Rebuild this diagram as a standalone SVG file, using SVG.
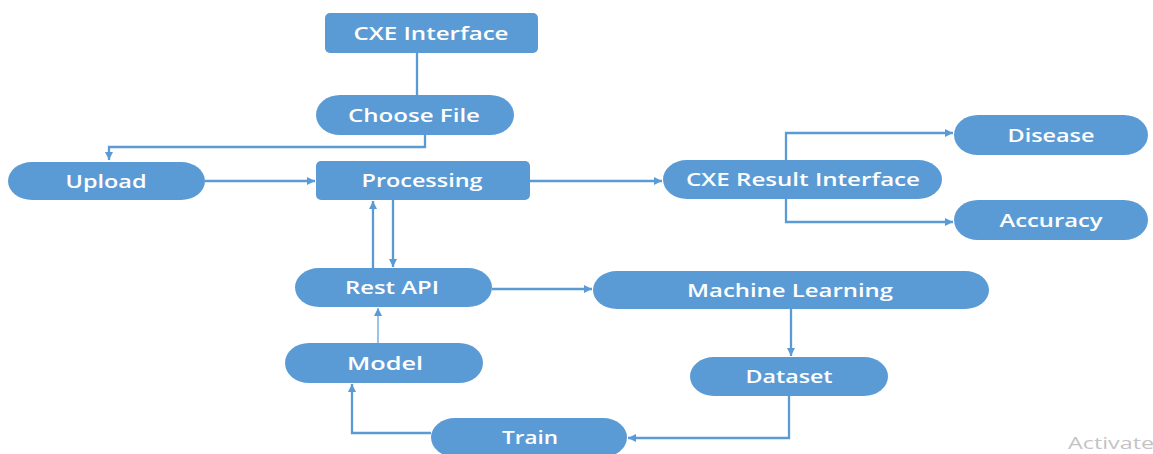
<svg xmlns="http://www.w3.org/2000/svg" width="1153" height="454" viewBox="0 0 1153 454">
<defs>
<marker id="arr" markerUnits="userSpaceOnUse" markerWidth="9" markerHeight="8" refX="8" refY="4" orient="auto">
<path d="M0,0 L8,4 L0,8 Z" fill="#5b9bd5"/>
</marker>
<style>
.box{fill:#5b9bd5;}
.lbl{font-family:"Open Sans","Noto Sans",sans-serif;font-size:18px;font-weight:600;fill:#ffffff;text-anchor:middle;}
.con{fill:none;stroke:#5b9bd5;stroke-width:2.3;}
.thin{fill:none;stroke:#5b9bd5;stroke-width:1.2;}
</style>
</defs>
<rect width="1153" height="454" fill="#ffffff"/>
<g id="connectors">
<path class="con" d="M417,53 V95"/>
<path class="con" d="M425,135 V147 H109 V160" marker-end="url(#arr)"/>
<path class="con" d="M205,181 H315" marker-end="url(#arr)"/>
<path class="con" d="M530,181 H662" marker-end="url(#arr)"/>
<path class="con" d="M786,160 V133 H953" marker-end="url(#arr)"/>
<path class="con" d="M786,199 V222 H953" marker-end="url(#arr)"/>
<path class="con" d="M373,268 V201" marker-end="url(#arr)"/>
<path class="con" d="M393,200 V267" marker-end="url(#arr)"/>
<path class="thin" d="M378,343 V308" marker-end="url(#arr)"/>
<path class="con" d="M492,289 H592" marker-end="url(#arr)"/>
<path class="con" d="M791,309 V356" marker-end="url(#arr)"/>
<path class="con" d="M789,396 V438 H628" marker-end="url(#arr)"/>
<path class="con" d="M431,433 H352 V384" marker-end="url(#arr)"/>
</g>
<g id="cxe-interface"><rect class="box" x="325" y="13" width="213" height="40" rx="5"/><text class="lbl" x="431" y="40" textLength="155" lengthAdjust="spacingAndGlyphs">CXE Interface</text></g>
<g id="choose-file"><rect class="box" x="316" y="95" width="198" height="40" rx="24" ry="20"/><text class="lbl" x="414" y="122" textLength="132" lengthAdjust="spacingAndGlyphs">Choose File</text></g>
<g id="upload"><rect class="box" x="8" y="162" width="197" height="38" rx="24" ry="19"/><text class="lbl" x="106" y="188" textLength="81" lengthAdjust="spacingAndGlyphs">Upload</text></g>
<g id="processing"><rect class="box" x="316" y="161" width="214" height="39" rx="5"/><text class="lbl" x="422" y="187" textLength="121" lengthAdjust="spacingAndGlyphs">Processing</text></g>
<g id="cxe-result"><rect class="box" x="663" y="160" width="279" height="39" rx="24" ry="19.5"/><text class="lbl" x="803" y="186" textLength="234" lengthAdjust="spacingAndGlyphs">CXE Result Interface</text></g>
<g id="disease"><rect class="box" x="954" y="115" width="194" height="40" rx="24" ry="20"/><text class="lbl" x="1051" y="142" textLength="87" lengthAdjust="spacingAndGlyphs">Disease</text></g>
<g id="accuracy"><rect class="box" x="954" y="200" width="194" height="40" rx="24" ry="20"/><text class="lbl" x="1051" y="227" textLength="103" lengthAdjust="spacingAndGlyphs">Accuracy</text></g>
<g id="rest-api"><rect class="box" x="295" y="268" width="197" height="39" rx="24" ry="19.5"/><text class="lbl" x="392" y="294" textLength="94" lengthAdjust="spacingAndGlyphs">Rest API</text></g>
<g id="machine-learning"><rect class="box" x="593" y="271" width="396" height="38" rx="24" ry="19"/><text class="lbl" x="790" y="297" textLength="206" lengthAdjust="spacingAndGlyphs">Machine Learning</text></g>
<g id="model"><rect class="box" x="285" y="343" width="198" height="40" rx="24" ry="20"/><text class="lbl" x="385" y="370" textLength="76" lengthAdjust="spacingAndGlyphs">Model</text></g>
<g id="dataset"><rect class="box" x="690" y="357" width="198" height="39" rx="24" ry="19.5"/><text class="lbl" x="789" y="383" textLength="87" lengthAdjust="spacingAndGlyphs">Dataset</text></g>
<g id="train"><rect class="box" x="431" y="418" width="196" height="39" rx="24" ry="19.5"/><text class="lbl" x="530" y="444" textLength="56" lengthAdjust="spacingAndGlyphs">Train</text></g>
<text x="1068" y="449" font-family="'Open Sans','Noto Sans',sans-serif" font-size="16" fill="#c4c4c4" textLength="86" lengthAdjust="spacingAndGlyphs">Activate</text>
</svg>
